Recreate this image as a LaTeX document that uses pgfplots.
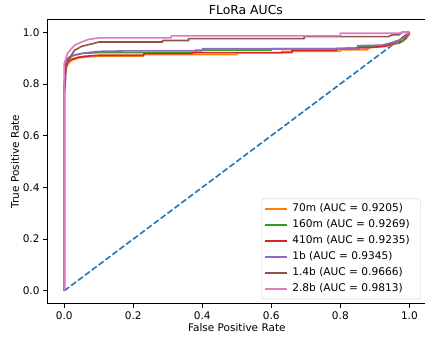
\documentclass[border=0pt]{standalone}
\usepackage{fontspec}
\setmainfont{DejaVu Sans}
\usepackage{pgfplots}
\pgfplotsset{compat=1.18}
\usetikzlibrary{calc}
\definecolor{c0}{HTML}{1F77B4}
\definecolor{c1}{HTML}{FF7F0E}
\definecolor{c2}{HTML}{2CA02C}
\definecolor{c3}{HTML}{D62728}
\definecolor{c4}{HTML}{9467BD}
\definecolor{c5}{HTML}{8C564B}
\definecolor{c6}{HTML}{E377C2}
\begin{document}
\begin{tikzpicture}
\begin{axis}[
  name=ax,
  scale only axis,
  width=379.5pt, height=284.3pt,
  xmin=-0.05, xmax=1.05, ymin=-0.05, ymax=1.05,
  xtick={0,0.2,0.4,0.6,0.8,1.0},
  ytick={0,0.2,0.4,0.6,0.8,1.0},
  tick align=outside,
  major tick length=4pt,
  tick style={black, line width=0.8pt},
  xtick pos=bottom, ytick pos=left,
  axis line style={black, line width=0.8pt},
  /pgf/number format/.cd, fixed, fixed zerofill, precision=1, assume math mode=true,
  /pgfplots/.cd,
  tick label style={font=\fontsize{10.5}{12}\selectfont},
  xticklabel style={yshift=-1pt},
  label style={font=\fontsize{10.5}{12}\selectfont},
  xlabel={False Positive Rate},
  ylabel={True Positive Rate},
  xlabel style={yshift=3pt},
  ylabel style={yshift=-3pt},
  legend cell align=left,
  legend style={at={(0.985,0.016)}, anchor=south east,
    font=\fontsize{10.6}{12}\selectfont,
    draw=black!20, rounded corners=2pt, fill=white, fill opacity=0.8, text opacity=1,
    inner xsep=2pt, inner ysep=2pt,
    nodes={inner xsep=2pt, inner ysep=2.5pt, text height=8pt, text depth=3pt},
    /tikz/every odd column/.append style={column sep=3pt}},
  legend image code/.code={\draw[#1] (0pt,0pt) -- (22pt,0pt);},
  every axis plot/.append style={line width=1.6pt, line join=round},
]
\addplot[c0, dashed, dash pattern=on 6pt off 2.6pt, forget plot] coordinates {(0,0) (1,1)};
\addplot[c1] coordinates {(0,0) (0,0.80) (0.003,0.84) (0.006,0.86) (0.01,0.875) (0.02,0.89) (0.04,0.90) (0.07,0.905) (0.12,0.908) (0.23,0.908) (0.23,0.914) (0.50,0.914) (0.50,0.920) (0.63,0.920) (0.63,0.926) (0.80,0.926) (0.80,0.932) (0.88,0.932) (0.88,0.940) (0.93,0.945) (0.95,0.952) (0.97,0.958) (0.98,0.965) (0.99,0.975) (1.0,0.99) (1,1)};
\addlegendentry{70m (AUC = 0.9205)\hspace*{7pt}}
\addplot[c2] coordinates {(0,0) (0,0.78) (0.003,0.85) (0.006,0.88) (0.01,0.895) (0.02,0.905) (0.03,0.912) (0.05,0.918) (0.10,0.921) (0.38,0.921) (0.38,0.931) (0.60,0.931) (0.60,0.936) (0.85,0.936) (0.85,0.945) (0.92,0.948) (0.95,0.955) (0.97,0.958) (0.98,0.965) (0.99,0.975) (0.995,0.99) (1,1)};
\addlegendentry{160m (AUC = 0.9269)\hspace*{7pt}}
\addplot[c3] coordinates {(0,0) (0,0.77) (0.003,0.83) (0.006,0.87) (0.01,0.885) (0.02,0.895) (0.04,0.903) (0.06,0.907) (0.10,0.911) (0.23,0.911) (0.23,0.917) (0.37,0.917) (0.37,0.921) (0.66,0.921) (0.66,0.930) (0.79,0.930) (0.79,0.937) (0.88,0.940) (0.93,0.946) (0.95,0.955) (0.96,0.965) (0.975,0.965) (0.975,0.975) (0.985,0.975) (0.99,0.985) (1,1)};
\addlegendentry{410m (AUC = 0.9235)\hspace*{7pt}}
\addplot[c4] coordinates {(0,0) (0,0.80) (0.003,0.86) (0.006,0.885) (0.01,0.90) (0.02,0.908) (0.04,0.914) (0.06,0.92) (0.10,0.926) (0.19,0.928) (0.40,0.928) (0.40,0.936) (0.85,0.936) (0.85,0.948) (0.92,0.950) (0.95,0.960) (0.97,0.968) (0.985,0.98) (1,1)};
\addlegendentry{1b (AUC = 0.9345)\hspace*{7pt}}
\addplot[c5] coordinates {(0,0) (0,0.76) (0.003,0.80) (0.005,0.87) (0.01,0.89) (0.02,0.91) (0.03,0.93) (0.05,0.945) (0.08,0.955) (0.10,0.962) (0.285,0.962) (0.285,0.968) (0.36,0.968) (0.36,0.975) (0.695,0.975) (0.695,0.983) (0.94,0.983) (0.95,0.99) (0.97,0.99) (0.98,1.0) (1,1)};
\addlegendentry{1.4b (AUC = 0.9666)\hspace*{7pt}}
\addplot[c6] coordinates {(0,0) (0,0.88) (0.005,0.90) (0.01,0.92) (0.02,0.935) (0.03,0.95) (0.05,0.962) (0.07,0.972) (0.10,0.978) (0.31,0.978) (0.31,0.986) (0.80,0.986) (0.80,0.996) (0.97,0.996) (0.98,1.0) (1,1)};
\addlegendentry{2.8b (AUC = 0.9813)\hspace*{7pt}}
\end{axis}
\node[anchor=base, font=\fontsize{12.4}{14}\selectfont] at ($(ax.north west)!0.524!(ax.north east)+(0,5pt)$) {FLoRa AUCs};
\pgfresetboundingbox
\useasboundingbox ($(ax.south west)+(-47pt,-37.4pt)$) rectangle ($(ax.north east)+(-1.6pt,19.3pt)$);
\end{tikzpicture}
\end{document}
